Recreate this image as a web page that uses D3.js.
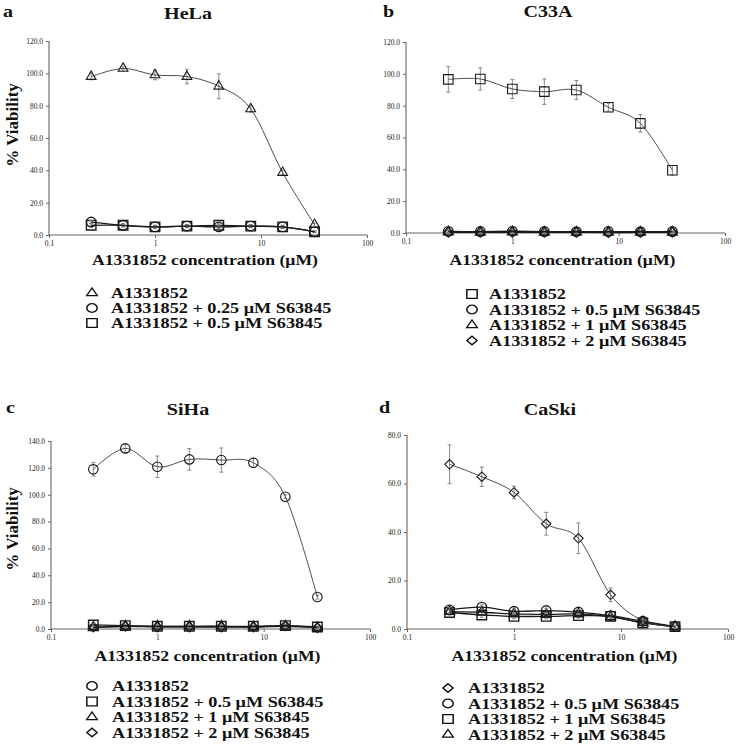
<!DOCTYPE html>
<html><head><meta charset="utf-8">
<script src="https://cdn.jsdelivr.net/npm/d3@7"></script>
<style>
html,body{margin:0;padding:0;background:#fff;}
svg{display:block;}
</style></head>
<body><svg id="chart" width="739" height="747"></svg>
<script>
// ---------- data ----------
const conc = [0.25, 0.5, 1, 2, 4, 8, 16, 32];
const xTicks = [0.1, 1, 10, 100];
const xTickLabels = ["0.1", "1", "10", "100"];

// HeLa
const helaA = [98, 103, 99, 98, 92, 78, 38.6, 6.4];
const helaAErr = [2, 1, 3, 4.5, 7.7, 2, 1.5, 1];
const hela025 = [8, 6, 5, 5.5, 5, 5.5, 5, 2];
const hela05 = [6, 6, 5, 5.5, 6, 5.5, 5, 2];
const smallErr = [1, 1, 1, 1, 1, 1, 1, 0.5];
const helaYTicks = [0, 20, 40, 60, 80, 100, 120];

// C33A
const c33aA = [96.5, 96.8, 90.5, 88.8, 89.8, 79, 68.9, 39.4];
const c33aAErr = [8, 7, 6, 8, 6, 2.5, 5.5, 3];
const c33a05 = [1.0, 0.9, 1.1, 0.9, 0.8, 0.9, 0.8, 0.9];
const c33a1 = [0.6, 0.5, 0.6, 0.5, 0.5, 0.4, 0.5, 0.5];
const c33a2 = [0.4, 0.4, 0.5, 0.4, 0.4, 0.3, 0.4, 0.4];
const c33aYTicks = [0, 20, 40, 60, 80, 100, 120];

// SiHa
const sihaA = [118.9, 134.5, 120.8, 126.3, 125.8, 123.8, 98.5, 23.8];
const sihaAErr = [5, 3, 8, 8, 9, 3.5, 1.5, 1.5];
const siha05 = [3, 2.5, 2, 2, 2, 2, 2.5, 1.5];
const siha1 = [1, 2, 2, 2, 2, 1.5, 2, 1];
const siha2 = [1.5, 2, 1.5, 1.5, 1.5, 1.5, 2.5, 1];
const sihaYTicks = [0, 20, 40, 60, 80, 100, 120, 140];

// CaSki
const caskiA = [67.9, 62.8, 56.3, 43.4, 37.4, 14.1, 3.4, 1];
const caskiAErr = [8, 4, 2.6, 4.7, 6.3, 2.8, 1, 0.5];
const caski05 = [7.9, 9, 7.3, 7.6, 7, 5.5, 3.2, 1];
const caski1 = [6.8, 5.8, 5.2, 5.2, 5.5, 5.2, 2.5, 1];
const caski2 = [7.2, 6.9, 6.2, 6, 6.2, 5, 2.6, 1];
const caskiYTicks = [0, 20, 40, 60, 80];

// ---------- layout ----------
const panels = [
  { letter: "a", title: "HeLa", x0: 49, x1: 367, y0: 235, y1: 41, ymax: 120, yTicks: helaYTicks,
    titleX: 188, titleY: 19, letterX: 3, letterY: 17, ylabel: true, ylabelY: 125,
    xlabelY: 265, legX: 92, legTX: 111, legY: 293, legDY: 15,
    series: [
      { name: "A1331852", sym: "triangle", v: helaA, e: helaAErr, main: true },
      { name: "A1331852 + 0.25 μM S63845", sym: "circle", v: hela025, e: smallErr },
      { name: "A1331852 + 0.5 μM S63845", sym: "square", v: hela05, e: smallErr }
    ] },
  { letter: "b", title: "C33A", x0: 406, x1: 725, y0: 233, y1: 42, ymax: 120, yTicks: c33aYTicks,
    titleX: 548, titleY: 17, letterX: 383, letterY: 17, ylabel: false,
    xlabelY: 265, legX: 472, legTX: 489, legY: 294, legDY: 15.5,
    series: [
      { name: "A1331852", sym: "square", v: c33aA, e: c33aAErr, main: true },
      { name: "A1331852 + 0.5 μM S63845", sym: "circle", v: c33a05, e: smallErr },
      { name: "A1331852 + 1 μM S63845", sym: "triangle", v: c33a1, e: smallErr },
      { name: "A1331852 + 2 μM S63845", sym: "diamond", v: c33a2, e: smallErr }
    ] },
  { letter: "c", title: "SiHa", x0: 51, x1: 370, y0: 629, y1: 441, ymax: 140, yTicks: sihaYTicks,
    titleX: 188, titleY: 415, letterX: 6, letterY: 413, ylabel: true, ylabelY: 529,
    xlabelY: 661, legX: 92, legTX: 112, legY: 686, legDY: 15.5,
    series: [
      { name: "A1331852", sym: "circle", v: sihaA, e: sihaAErr, main: true },
      { name: "A1331852 + 0.5 μM S63845", sym: "square", v: siha05, e: smallErr },
      { name: "A1331852 + 1 μM S63845", sym: "triangle", v: siha1, e: smallErr },
      { name: "A1331852 + 2 μM S63845", sym: "diamond", v: siha2, e: smallErr }
    ] },
  { letter: "d", title: "CaSki", x0: 407, x1: 728, y0: 629, y1: 435, ymax: 80, yTicks: caskiYTicks,
    titleX: 550, titleY: 415, letterX: 379, letterY: 413, ylabel: false,
    xlabelY: 661, legX: 448, legTX: 468, legY: 688, legDY: 15.5,
    series: [
      { name: "A1331852", sym: "diamond", v: caskiA, e: caskiAErr, main: true },
      { name: "A1331852 + 0.5 μM S63845", sym: "circle", v: caski05, e: smallErr },
      { name: "A1331852 + 1 μM S63845", sym: "square", v: caski1, e: smallErr },
      { name: "A1331852 + 2 μM S63845", sym: "triangle", v: caski2, e: smallErr }
    ] }
];

const FONT = "'Liberation Serif','Times New Roman',Tinos,'DejaVu Serif',serif";
const svg = d3.select("#chart");
const axisColor = "#6f625d";

function stretch(sel, sx) {
  sel.each(function () {
    const L = this.getComputedTextLength();
    d3.select(this).attr("textLength", L * sx).attr("lengthAdjust", "spacingAndGlyphs");
  });
}

function symPath(kind, s) {
  if (kind === "circle") return d3.symbol(d3.symbolCircle, Math.PI * (s / 2) * (s / 2))();
  if (kind === "square") return d3.symbol(d3.symbolSquare, s * s)();
  if (kind === "triangle") return d3.symbol(d3.symbolTriangle, Math.sqrt(3) / 4 * s * s * 1.05)();
  const h = s / 2;
  return `M0,${-h}L${h},0L0,${h}L${-h},0Z`;
}

panels.forEach(p => {
  const g = svg.append("g");
  const x = d3.scaleLog().domain([0.1, 100]).range([p.x0, p.x1]);
  const y = d3.scaleLinear().domain([0, p.ymax]).range([p.y0, p.y1]);

  const ya = g.append("g").attr("transform", `translate(${p.x0},0)`)
    .call(d3.axisLeft(y).tickValues(p.yTicks).tickFormat(d3.format(".1f")).tickSize(3).tickPadding(3));
  const xa = g.append("g").attr("transform", `translate(0,${p.y0})`)
    .call(d3.axisBottom(x).tickValues(xTicks).tickFormat((d, i) => xTickLabels[i]).tickSize(3).tickPadding(3));
  [ya, xa].forEach(a => {
    a.attr("font-family", FONT).attr("font-size", 7.5);
    a.select(".domain").attr("stroke", axisColor).attr("stroke-width", 1.1);
    a.selectAll(".tick line").attr("stroke", axisColor);
    a.selectAll(".tick text").attr("fill", "#1a1a1a");
  });
  ya.select(".domain").attr("d", `M0,${p.y0}V${p.y1}`);
  xa.select(".domain").attr("d", `M${p.x0},0H${p.x1}`);

  const line = d3.line().x((d, i) => x(conc[i])).y(d => y(d)).curve(d3.curveCatmullRom.alpha(0));

  const order = p.series.slice().reverse();
  order.forEach(s => {
    const eb = g.append("g").attr("stroke", "#7d7d7d").attr("stroke-width", 0.9);
    s.v.forEach((v, i) => {
      const cx = x(conc[i]);
      const yt = y(v + s.e[i]), yb = y(Math.max(0, v - s.e[i]));
      eb.append("line").attr("x1", cx).attr("x2", cx).attr("y1", yt).attr("y2", yb);
      eb.append("line").attr("x1", cx - 2).attr("x2", cx + 2).attr("y1", yt).attr("y2", yt);
      eb.append("line").attr("x1", cx - 2).attr("x2", cx + 2).attr("y1", yb).attr("y2", yb);
    });
    g.append("path").datum(s.v).attr("d", line).attr("fill", "none")
      .attr("stroke", s.main ? "#3a3a3a" : "#1a1a1a").attr("stroke-width", s.main ? 0.9 : 1.3);
    g.append("g").selectAll("path").data(s.v).join("path")
      .attr("d", symPath(s.sym, 9.5))
      .attr("transform", (d, i) => `translate(${x(conc[i])},${y(d)})`)
      .attr("fill", "none").attr("stroke", "#1a1a1a").attr("stroke-width", s.main ? 1.1 : 1.4);
  });

  const txt = () => svg.append("text").attr("font-family", FONT).attr("font-weight", "bold").attr("fill", "#111");

  txt().attr("x", p.titleX).attr("y", p.titleY).attr("text-anchor", "middle")
    .attr("font-size", 17).text(p.title).call(stretch, 1.18);
  txt().attr("x", p.letterX).attr("y", p.letterY)
    .attr("font-size", 17).text(p.letter).call(stretch, 1.18);

  txt().attr("x", (p.x0 + p.x1) / 2 - 3).attr("y", p.xlabelY).attr("text-anchor", "middle")
    .attr("font-size", 15.5).text("A1331852 concentration (μM)").call(stretch, 1.14);
  if (p.ylabel) {
    txt().attr("transform", `translate(18,${p.ylabelY}) rotate(-90)`).attr("text-anchor", "middle")
      .attr("font-size", 17).text("% Viability");
  }

  p.series.forEach((s, i) => {
    const ly = p.legY + i * p.legDY;
    svg.append("path").attr("d", symPath(s.sym, 9))
      .attr("transform", `translate(${p.legX},${ly}) scale(1.15,0.95)`)
      .attr("fill", "none").attr("stroke", "#111").attr("stroke-width", 1.3);
    txt().attr("x", p.legTX).attr("y", ly + 5)
      .attr("font-size", 14).text(s.name).call(stretch, 1.3);
  });
});
</script>
</body></html>
